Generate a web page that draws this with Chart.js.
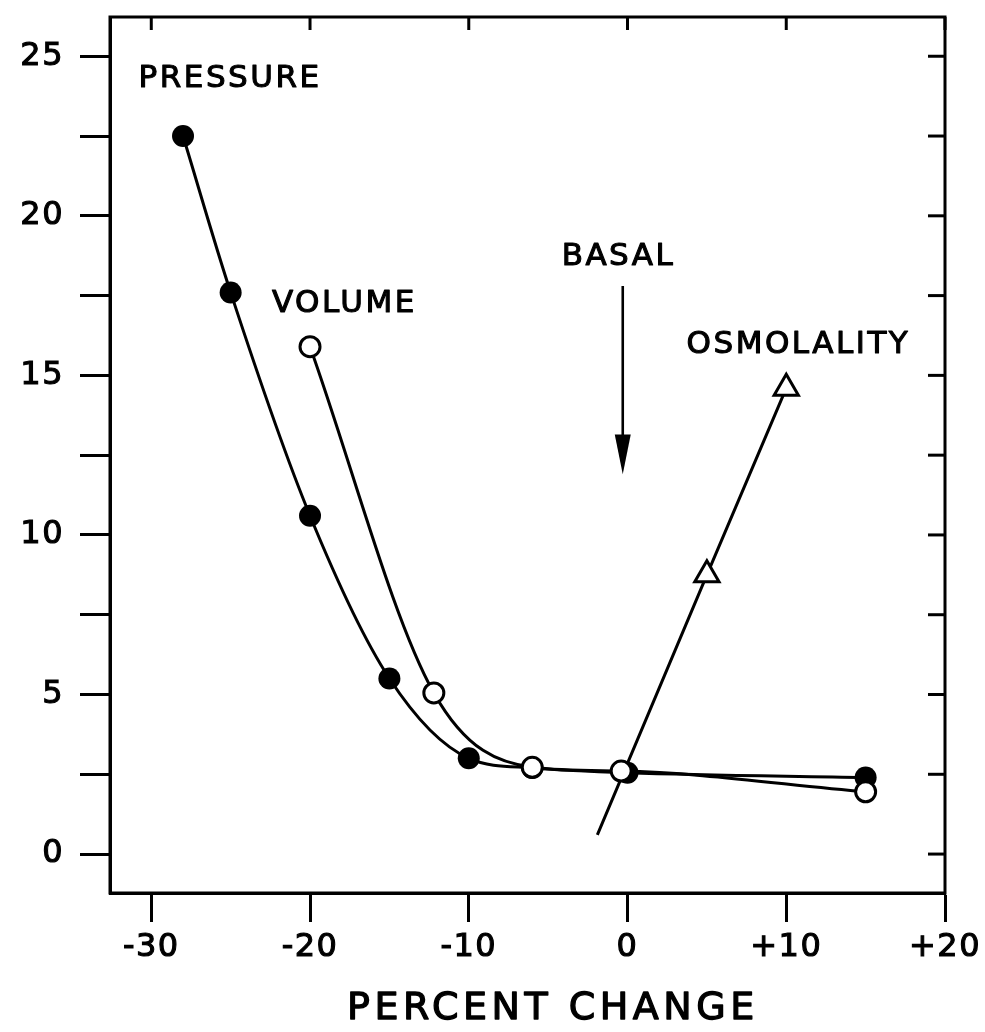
<!DOCTYPE html>
<html><head><meta charset="utf-8">
<script src="https://cdn.jsdelivr.net/npm/chart.js@4/dist/chart.umd.min.js"></script>
<style>html,body{margin:0;padding:0;background:#fff}#wrap{width:985px;height:1032px}canvas{display:block}</style>
</head><body><div id="wrap"><canvas id="c" width="985" height="1032"></canvas></div>
<script>
// ---- data ----
const pressureX = [-28, -25, -20, -15, -10, -6, 0, 15];
const pressureY = [22.5, 17.6, 10.6, 5.5, 3.0, 2.7, 2.55, 2.4];
const volumeX = [-20, -12.2, -6, -0.4, 15];
const volumeY = [15.9, 5.05, 2.72, 2.6, 1.95];
const osmolalityX = [-1.9, 5, 10];
const osmolalityY = [0.6, 8.75, 14.6];
const xTickValues = [-30, -20, -10, 0, 10, 20];
const xTickLabels = ['-30', '-20', '-10', '0', '+10', '+20'];
const yTickValues = [0, 5, 10, 15, 20, 25];
const yTickLabels = ['0', '5', '10', '15', '20', '25'];
const seriesNames = ['PRESSURE', 'VOLUME', 'OSMOLALITY'];
const basalLabel = 'BASAL';
const xAxisTitle = 'PERCENT CHANGE';
const basalValue = -0.3;

const toPts = (xs, ys) => xs.map((x, i) => ({x: x, y: ys[i]}));
const FONT = '"DejaVu Sans", sans-serif';

const decor = {
  id: 'decor',
  beforeDraw(chart) { chart.ctx.letterSpacing = '1.5px'; },
  afterDraw(chart) {
    const ctx = chart.ctx, a = chart.chartArea, xs = chart.scales.x, ys = chart.scales.y;
    ctx.save();
    ctx.strokeStyle = '#000'; ctx.fillStyle = '#000'; ctx.lineWidth = 3; ctx.lineCap = 'butt';
    // frame
    ctx.strokeRect(a.left, a.top, a.right - a.left, a.bottom - a.top);
    // top inward ticks
    xTickValues.forEach(v => {
      const px = xs.getPixelForValue(v);
      ctx.beginPath(); ctx.moveTo(px, a.top); ctx.lineTo(px, a.top + 13); ctx.stroke();
    });
    // right inward ticks every 2.5
    for (let v = 0; v <= 25; v += 2.5) {
      const py = ys.getPixelForValue(v);
      ctx.beginPath(); ctx.moveTo(a.right, py); ctx.lineTo(a.right - 17, py); ctx.stroke();
    }
    // basal arrow
    const ax = xs.getPixelForValue(basalValue);
    const yTop = ys.getPixelForValue(17.8), yTip = ys.getPixelForValue(11.9), yHead = ys.getPixelForValue(13.15);
    ctx.lineWidth = 2.6;
    ctx.beginPath(); ctx.moveTo(ax, yTop); ctx.lineTo(ax, yHead + 2); ctx.stroke();
    ctx.beginPath(); ctx.moveTo(ax - 8, yHead); ctx.lineTo(ax + 8, yHead); ctx.lineTo(ax, yTip); ctx.closePath(); ctx.fill();
    // labels
    ctx.font = '31px ' + FONT; ctx.letterSpacing = '2.5px';
    ctx.textAlign = 'left'; ctx.textBaseline = 'middle';
    ctx.lineWidth = 1.1; ctx.lineJoin = 'round';
    const lab = (t, xv, yv) => {
      const px = xs.getPixelForValue(xv), py = ys.getPixelForValue(yv);
      ctx.fillText(t, px, py); ctx.strokeText(t, px, py);
    };
    lab(seriesNames[0], -30.8, 24.3);
    lab(seriesNames[1], -22.4, 17.25);
    lab(seriesNames[2], 3.72, 15.95);
    lab(basalLabel, -4.15, 18.7);
    // axis title
    ctx.font = '38px ' + FONT; ctx.letterSpacing = '4.5px'; ctx.lineWidth = 1.3;
    ctx.fillText(xAxisTitle, a.left + 237, 1009);
    ctx.strokeText(xAxisTitle, a.left + 237, 1009);
    ctx.restore();
    ctx.letterSpacing = '0px';
  }
};

new Chart(document.getElementById('c'), {
  type: 'scatter',
  data: {
    datasets: [
      {
        label: seriesNames[1], data: toPts(volumeX, volumeY), showLine: true,
        borderColor: '#000', borderWidth: 3, cubicInterpolationMode: 'monotone',
        pointStyle: 'circle', pointRadius: 10, pointBackgroundColor: '#fff',
        pointBorderColor: '#000', pointBorderWidth: 3
      },
      {
        label: seriesNames[0], data: toPts(pressureX, pressureY), showLine: true,
        borderColor: '#000', borderWidth: 3, cubicInterpolationMode: 'monotone',
        pointStyle: 'circle', pointRadius: 11, pointBackgroundColor: '#000',
        pointBorderColor: '#000', pointBorderWidth: 0
      },
      {
        label: seriesNames[2], data: toPts(osmolalityX, osmolalityY), showLine: true,
        borderColor: '#000', borderWidth: 3, tension: 0,
        pointStyle: 'triangle', pointRadius: [0, 14, 14], pointBackgroundColor: '#fff',
        pointBorderColor: '#000', pointBorderWidth: 3
      }
    ]
  },
  options: {
    responsive: false, animation: false, events: [],
    layout: {padding: {top: 14, right: 40, left: 0, bottom: 0}},
    plugins: {legend: {display: false}, tooltip: {enabled: false}},
    scales: {
      x: {
        type: 'linear', position: 'bottom', min: -32.6, max: 20,
        afterFit(s) { s.height = 139; s.paddingLeft = 0; s.paddingRight = 0; },
        ticks: {
          stepSize: 10, includeBounds: false, autoSkip: false, maxRotation: 0, padding: 6,
          color: '#000', font: {family: FONT, size: 32}, textStrokeColor: '#000', textStrokeWidth: 1.1,
          callback: v => { const i = xTickValues.indexOf(v); return i >= 0 ? xTickLabels[i] : ''; }
        },
        grid: {display: true, drawOnChartArea: false, drawTicks: true, tickLength: 29, tickWidth: 3, tickColor: '#000'},
        border: {display: true, color: '#000', width: 3}
      },
      y: {
        type: 'linear', position: 'left', min: -1.22, max: 26.23,
        afterFit(s) { s.width = 110; s.paddingTop = 0; s.paddingBottom = 0; },
        ticks: {
          stepSize: 2.5, includeBounds: false, autoSkip: false, padding: 16,
          color: '#000', font: {family: FONT, size: 32}, textStrokeColor: '#000', textStrokeWidth: 1.1,
          callback: v => { const i = yTickValues.indexOf(v); return i >= 0 ? yTickLabels[i] : ''; }
        },
        grid: {display: true, drawOnChartArea: false, drawTicks: true, tickLength: 30, tickWidth: 3, tickColor: '#000'},
        border: {display: true, color: '#000', width: 3}
      }
    }
  },
  plugins: [decor]
});
</script>
</body></html>
